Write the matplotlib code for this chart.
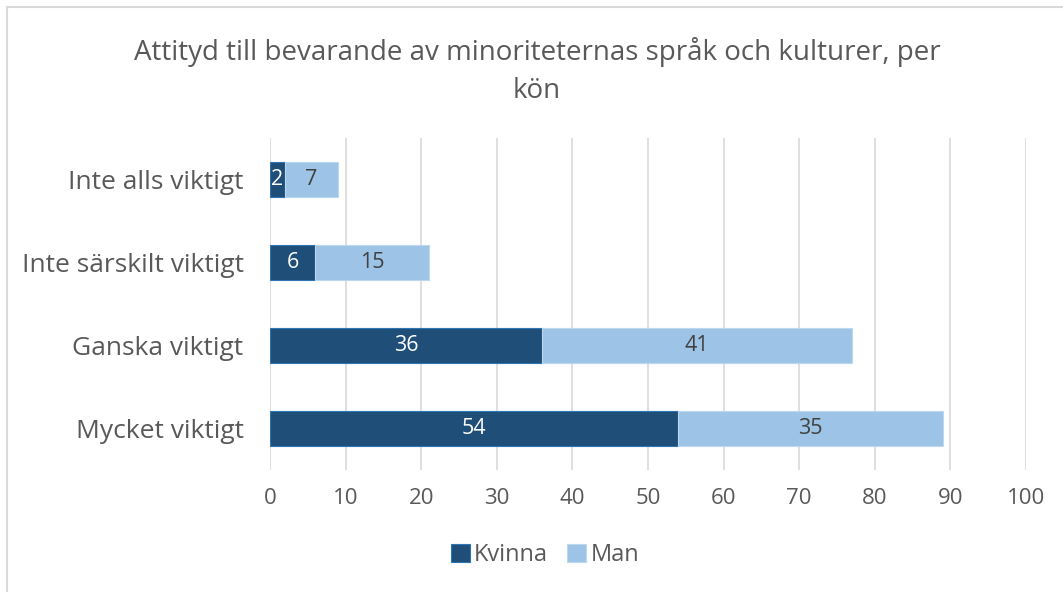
import numpy as np
import matplotlib.pyplot as plt
from matplotlib.patches import Rectangle

plt.rcParams['font.family'] = ['Open Sans', 'DejaVu Sans']

categories = ["Inte alls viktigt", "Inte särskilt viktigt", "Ganska viktigt", "Mycket viktigt"]
kvinna = [2, 6, 36, 54]
man = [7, 15, 41, 35]
title = "Attityd till bevarande av minoriteternas språk och kulturer, per\nkön"

dark = "#1F4E79"
light = "#9DC3E6"
grey = "#595959"

fig = plt.figure(figsize=(10.63, 5.92), dpi=100)
ax = fig.add_axes([270 / 1063, 1 - 470 / 592, 756 / 1063, 332 / 592])

y = np.arange(len(categories))
h = 0.41
ax.barh(y, kvinna, height=h, color=dark, edgecolor="#2E75B6", linewidth=0.8,
        label="Kvinna", zorder=3)
ax.barh(y, man, left=kvinna, height=h, color=light, edgecolor="#BDD7EE",
        linewidth=0.8, label="Man", zorder=3)

for yi, k, m in zip(y, kvinna, man):
    ax.text(k / 2, yi, str(k), ha="center", va="center", color="white",
            fontsize=15.5, zorder=4)
    ax.text(k + m / 2, yi, str(m), ha="center", va="center", color="#404040",
            fontsize=15.5, zorder=4)

ax.set_xlim(0, 100)
ax.set_xticks(np.arange(0, 101, 10))
ax.set_ylim(len(categories) - 0.5, -0.5)
ax.set_yticks(y)
ax.set_yticklabels(categories, fontsize=19, color=grey)
ax.tick_params(axis="x", labelsize=16, labelcolor=grey, length=0, pad=13)
ax.tick_params(axis="y", length=0, pad=19)
ax.grid(axis="x", color="#D9D9D9", linewidth=1.2, zorder=0)
for s in ax.spines.values():
    s.set_visible(False)

fig.text(537 / 1063, 1 - 71 / 592, title, ha="center", va="center",
         fontsize=20, color=grey, linespacing=1.45)

fig.legend(loc="center", bbox_to_anchor=(545 / 1063, 1 - 555 / 592), ncol=2,
           frameon=False, fontsize=17, labelcolor=grey, handlelength=0.8,
           handleheight=0.8, handletextpad=0.2, columnspacing=0.8)

fig.patches.append(Rectangle((7 / 1063, -0.1), 1.2, (592 - 7) / 592 + 0.1,
                             transform=fig.transFigure, fill=False,
                             edgecolor="#D9D9D9", linewidth=1.5))

fig.savefig("out.png", dpi=100)
